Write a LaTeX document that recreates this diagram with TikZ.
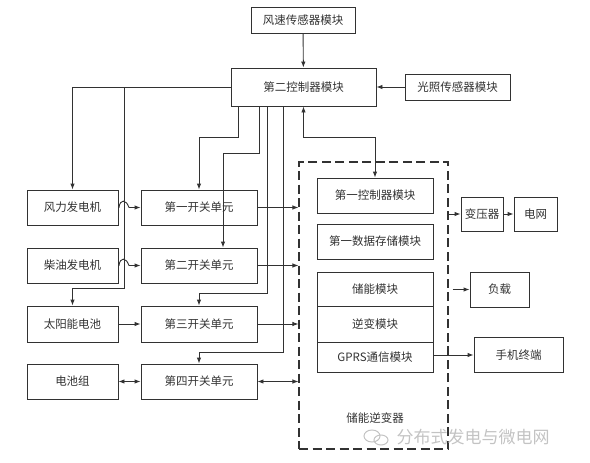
\documentclass[tikz,border=0pt]{standalone}
\usepackage{fontspec}
\setmainfont{Noto Sans CJK SC}
\usetikzlibrary{arrows.meta}
\definecolor{ink}{RGB}{50,50,50}
\definecolor{wm}{RGB}{195,195,195}
\tikzset{
  box/.style={draw=ink, line width=0.9pt, text=ink, inner sep=0pt, font=\fontsize{11.5}{13}\selectfont},
  conn/.style={draw=ink, line width=0.9pt},
  arr/.style={conn, -{Latex[length=6pt,width=4.5pt]}},
  arrb/.style={conn, {Latex[length=6pt,width=4.5pt]}-{Latex[length=6pt,width=4.5pt]}},
}
\begin{document}
\begin{tikzpicture}[x=1pt,y=-1pt]
\useasboundingbox (0,0) rectangle (590,463);
% top
\node[box, minimum width=104, minimum height=26] (fs) at (303,20) {风速传感器模块};
\node[box, minimum width=145, minimum height=38] (c2) at (303.5,87) {第二控制器模块};
\node[box, minimum width=105, minimum height=26] (gz) at (457.5,87) {光照传感器模块};
% left column
\node[box, minimum width=91, minimum height=35] (fl) at (72.5,207.5) {风力发电机};
\node[box, minimum width=91, minimum height=35] (cy) at (72.5,265.5) {柴油发电机};
\node[box, minimum width=91, minimum height=36] (ty) at (72.5,324) {太阳能电池};
\node[box, minimum width=91, minimum height=35] (dc) at (72.5,381.5) {电池组};
% switches
\node[box, minimum width=116, minimum height=35] (s1) at (199,207.5) {第一开关单元};
\node[box, minimum width=116, minimum height=35] (s2) at (199,265.5) {第二开关单元};
\node[box, minimum width=116, minimum height=36] (s3) at (199,324) {第三开关单元};
\node[box, minimum width=116, minimum height=35] (s4) at (199,381.5) {第四开关单元};
% inverter dashed box
\node[draw=ink, line width=1.1pt, dash pattern=on 9pt off 4.5pt, minimum width=149, minimum height=287, inner sep=0pt] (inv) at (373.5,305.5) {};
\node[text=ink, font=\fontsize{11.5}{13}\selectfont] (invl) at (375,418) {储能逆变器};
\node[box, minimum width=116, minimum height=35] (k1) at (375,195.5) {第一控制器模块};
\node[box, minimum width=116, minimum height=35] (d1) at (375,241.5) {第一数据存储模块};
\node[box, minimum width=116, minimum height=34] (cn) at (375,289) {储能模块};
\node[box, minimum width=116, minimum height=36] (nb) at (375,324) {逆变模块};
\node[box, minimum width=116, minimum height=30] (gp) at (375,357) {GPRS通信模块};
% right outputs
\node[box, minimum width=42, minimum height=34] (byq) at (482,214) {变压器};
\node[box, minimum width=43, minimum height=34] (dw) at (535.5,214) {电网};
\node[box, minimum width=59, minimum height=35] (fz) at (499.5,289.5) {负载};
\node[box, minimum width=89, minimum height=35] (sj) at (518.5,355) {手机终端};

% sensors to controller 2
\draw[arr] (fs) -- (c2);
\draw[arr] (gz) -- (c2);

% controller 2 left feeds
\coordinate (j1) at (124,87);
\coordinate (j1b) at (124,288);
\draw[arr] (c2.west) -| (fl.north);
\draw[arr] (j1) -- (j1b) -| (ty.north);

% controller 2 bottom feeds
\coordinate (b1) at (238,137);
\coordinate (b2) at (259,153);
\coordinate (b2b) at (223,153);
\coordinate (b3) at (267,293);
\coordinate (b4) at (283,352);
\coordinate (b5) at (303.5,137);
\draw[arr] (c2.south -| b1) -- (b1) -| (s1.north);
\draw[arr] (c2.south -| b2) -- (b2) -- (b2b) -- (b2b |- s2.north);
\draw[arr] (c2.south -| b3) -- (b3) -| (s3.north);
\draw[arr] (c2.south -| b4) -- (b4) -| (s4.north);
\draw[arrb] (c2.south) -- (b5) -| (k1.north);

% sources to switches (with line hops over x=124)
\coordinate (h1a) at (119,207.5);
\coordinate (h1b) at (129,207.5);
\coordinate (h2a) at (119,265.5);
\coordinate (h2b) at (129,265.5);
\draw[arr] (fl.east) -- (h1a) .. controls (120,199) and (126,199) .. (h1b) -- (s1.west);
\draw[arr] (cy.east) -- (h2a) .. controls (120,257) and (126,257) .. (h2b) -- (s2.west);
\draw[arr] (ty) -- (s3);
\draw[arrb] (dc) -- (s4);

% switches to inverter
\draw[arr] (s1.east) -- (s1.east -| inv.west);
\draw[arr] (s2.east) -- (s2.east -| inv.west);
\draw[arr] (s3.east) -- (s3.east -| inv.west);
\draw[arrb] (s4.east) -- (s4.east -| inv.west);

% inverter outputs
\draw[arr] (inv.east |- byq.west) -- (byq.west);
\draw[arr] (byq) -- (dw);
\draw[arr] ([xshift=4pt]inv.east |- fz.west) -- (fz.west);
\draw[arr] (gp.east |- sj.west) -- (sj.west);

% watermark
\node[text=wm, font=\fontsize{17}{19}\selectfont, anchor=west] (wmt) at (393,437) {分布式发电与微电网};
\draw[wm, line width=1pt] (372,436) ellipse [x radius=8pt, y radius=6pt];
\draw[wm, line width=1pt] (381,440) ellipse [x radius=7pt, y radius=5pt];
\end{tikzpicture}
\end{document}
